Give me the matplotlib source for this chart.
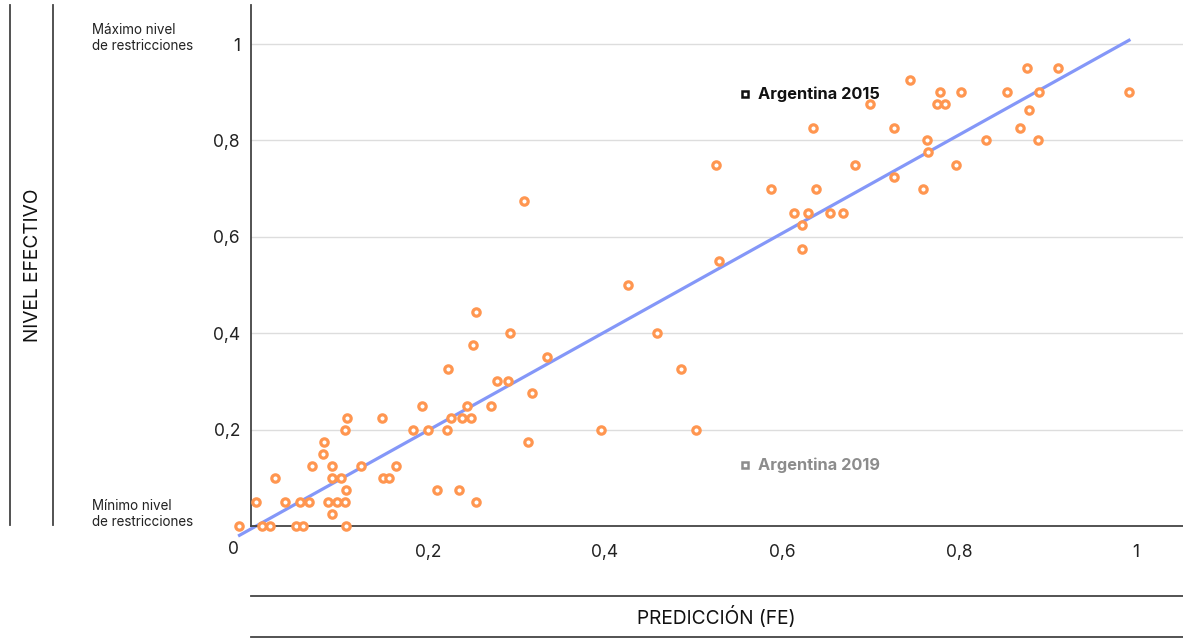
import numpy as np
import matplotlib
matplotlib.use("Agg")
import matplotlib.pyplot as plt
from matplotlib.lines import Line2D

plt.rcParams['font.family'] = ['Inter', 'DejaVu Sans']

# prediccion (FE) vs nivel efectivo de restricciones
prediccion = [
    -0.013, 0.012, 0.022, 0.051, 0.059, 0.107, 0.006, 0.038, 0.055, 0.065,
    0.087, 0.097, 0.106, 0.092, 0.107, 0.027, 0.091, 0.102, 0.149, 0.156,
    0.069, 0.091, 0.124, 0.164, 0.081, 0.083, 0.106, 0.108, 0.148, 0.183,
    0.193, 0.200, 0.254, 0.293, 0.251, 0.223, 0.278, 0.290, 0.334, 0.318,
    0.244, 0.271, 0.226, 0.238, 0.249, 0.221, 0.313, 0.210, 0.235, 0.254,
    0.309, 0.426, 0.459, 0.486, 0.396, 0.503, 0.529, 0.525, 0.587, 0.638,
    0.613, 0.629, 0.654, 0.669, 0.622, 0.623, 0.635, 0.682, 0.699, 0.744,
    0.727, 0.764, 0.765, 0.796, 0.779, 0.775, 0.784, 0.802, 0.830, 0.854,
    0.877, 0.912, 0.890, 0.879, 0.869, 0.889, 0.992, 0.759, 0.727,
]
nivel_efectivo = [
    0, 0, 0, 0, 0, 0, 0.05, 0.05, 0.05, 0.05,
    0.05, 0.05, 0.05, 0.025, 0.075, 0.1, 0.1, 0.1, 0.1, 0.1,
    0.125, 0.125, 0.125, 0.125, 0.15, 0.175, 0.2, 0.225, 0.225, 0.2,
    0.25, 0.2, 0.443, 0.4, 0.375, 0.325, 0.3, 0.3, 0.35, 0.275,
    0.25, 0.25, 0.225, 0.225, 0.225, 0.2, 0.175, 0.075, 0.075, 0.05,
    0.675, 0.5, 0.4, 0.325, 0.2, 0.2, 0.55, 0.75, 0.7, 0.7,
    0.65, 0.65, 0.65, 0.65, 0.625, 0.575, 0.825, 0.75, 0.875, 0.925,
    0.825, 0.8, 0.775, 0.75, 0.9, 0.875, 0.875, 0.9, 0.8, 0.9,
    0.95, 0.95, 0.9, 0.8625, 0.825, 0.8, 0.9, 0.7, 0.725,
]

# trend line as drawn in the original
trend_slope = 1.022
trend_intercept = -0.006

y_ticks = [0.2, 0.4, 0.6, 0.8, 1.0]
y_labels = ['0,2', '0,4', '0,6', '0,8', '1']
x_ticks = [0.2, 0.4, 0.6, 0.8, 1.0]
x_labels = ['0,2', '0,4', '0,6', '0,8', '1']

ORANGE = '#FF9650'
BLUE = '#8497F8'
W, H = 1183, 639

fig = plt.figure(figsize=(W / 100, H / 100), dpi=100)
ax = fig.add_axes([251 / W, (H - 526) / H, (W - 251) / W, 521 / H])

x = np.array(prediccion)
y = np.array(nivel_efectivo)

xs = np.array([x.min(), x.max()])
ax.plot(xs, trend_slope * xs + trend_intercept, color=BLUE, lw=2.3,
        clip_on=False, zorder=2)

ax.scatter(x, y, s=28, facecolor='white', edgecolor=ORANGE, linewidths=2.3,
           clip_on=False, zorder=3)

ax.set_xlim(0, 1.053)
ax.set_ylim(0, 1.081)
ax.set_yticks(y_ticks)
ax.set_yticklabels(y_labels)
ax.set_xticks(x_ticks)
ax.set_xticklabels(x_labels)
ax.tick_params(axis='both', length=0, labelsize=12.5, colors='#222222')
ax.tick_params(axis='y', pad=8)
ax.tick_params(axis='x', pad=13)
ax.grid(axis='y', color='#DDDDDD', lw=1)
ax.set_axisbelow(True)
for s in ['top', 'right']:
    ax.spines[s].set_visible(False)
for s in ['left', 'bottom']:
    ax.spines[s].set_color('#444444')
    ax.spines[s].set_linewidth(1.3)

# highlighted cases
ax.plot([0.558], [0.896], marker='s', ms=4.5, mfc='white', mec='#111111', mew=1.8,
        ls='none', clip_on=False)
ax.text(0.573, 0.896, 'Argentina 2015', fontsize=11.8, fontweight='bold',
        color='#111111', va='center', ha='left')
ax.plot([0.558], [0.127], marker='s', ms=4.5, mfc='white', mec='#8C8C8C', mew=1.8,
        ls='none', clip_on=False)
ax.text(0.573, 0.127, 'Argentina 2019', fontsize=11.8, fontweight='bold',
        color='#8C8C8C', va='center', ha='left')

fig.text(233 / W, 1 - 550 / H, '0', fontsize=12.5, color='#222222',
         ha='center', va='center')

fig.text(92 / W, 1 - 38 / H, 'Máximo nivel\nde restricciones', fontsize=9.7,
         color='#222222', ha='left', va='center', linespacing=1.15)
fig.text(92 / W, 1 - 514 / H, 'Mínimo nivel\nde restricciones', fontsize=9.7,
         color='#222222', ha='left', va='center', linespacing=1.15)

# side and bottom frame lines
for px in [10, 53]:
    fig.add_artist(Line2D([px / W, px / W], [1 - 5 / H, 1 - 525 / H],
                          color='#444444', lw=1.3))
for py in [596, 637]:
    fig.add_artist(Line2D([251 / W, 1.0], [1 - py / H, 1 - py / H],
                          color='#444444', lw=1.3))

fig.text(33 / W, 1 - 265 / H, 'NIVEL EFECTIVO', rotation=90, fontsize=13.8,
         color='#111111', ha='center', va='center')
fig.text(716 / W, 1 - 617 / H, 'PREDICCIÓN (FE)', fontsize=13.8,
         color='#111111', ha='center', va='center')

fig.savefig('out.png', dpi=100)
